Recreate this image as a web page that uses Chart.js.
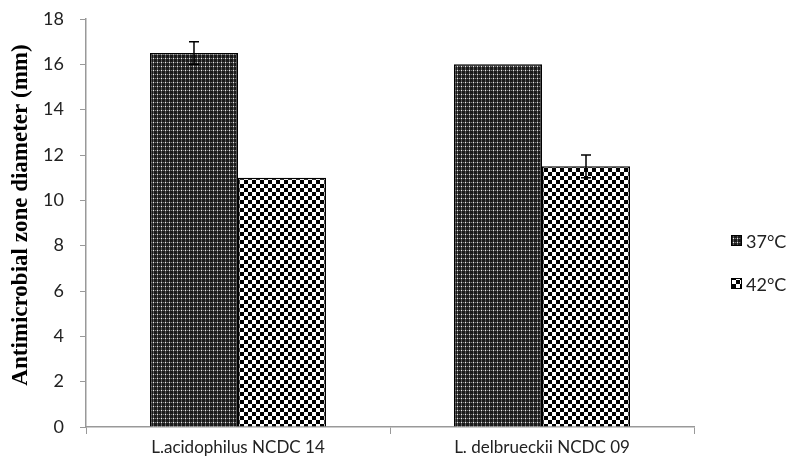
<!DOCTYPE html>
<html lang="en">
<head>
  <meta charset="UTF-8">
  <title>Antimicrobial zone diameter</title>
  <script src="https://cdn.jsdelivr.net/npm/chart.js"></script>
  <style>
    body { margin: 0; background: #fff; }
    #wrap { width: 799px; height: 468px; position: relative; }
  </style>
</head>
<body>
  <div id="wrap"><canvas id="zoneChart"></canvas></div>
  <script>
    // data
    const strains = ["L.acidophilus NCDC 14", "L. delbrueckii NCDC 09"];
    const seriesNames = ["37°C", "42°C"];
    const zone37 = [16.5, 16];
    const zone42 = [11, 11.5];
    const err37 = [0.5, 0];
    const err42 = [0, 0.5];
    const yTicks = [0, 2, 4, 6, 8, 10, 12, 14, 16, 18];
    const yTitle = "Antimicrobial zone diameter (mm)";

    function dotPattern() {
      const c = document.createElement("canvas");
      c.width = 4; c.height = 4;
      const g = c.getContext("2d");
      g.fillStyle = "#1a1a1a"; g.fillRect(0, 0, 4, 4);
      g.fillStyle = "#5a5a5a"; g.fillRect(1, 0, 1, 4);
      g.fillStyle = "#3a3a3a"; g.fillRect(0, 2, 4, 1);
      g.fillStyle = "#eee"; g.fillRect(1, 2, 1, 1);
      g.fillStyle = "#777"; g.fillRect(3, 2, 1, 1);
      return g.createPattern(c, "repeat");
    }
    function checkPattern() {
      const c = document.createElement("canvas");
      c.width = 8; c.height = 8;
      const g = c.getContext("2d");
      g.fillStyle = "#fff"; g.fillRect(0, 0, 8, 8);
      g.fillStyle = "#000"; g.fillRect(0, 0, 4, 4); g.fillRect(4, 4, 4, 4);
      return g.createPattern(c, "repeat");
    }
    const fills = [dotPattern(), checkPattern()];
    const errors = [err37, err42];

    const errorBars = {
      id: "errorBars",
      afterDatasetsDraw(chart) {
        const ctx = chart.ctx, y = chart.scales.y;
        ctx.save();
        ctx.strokeStyle = "#000";
        ctx.lineWidth = 1.5;
        chart.data.datasets.forEach((ds, di) => {
          const meta = chart.getDatasetMeta(di);
          meta.data.forEach((bar, i) => {
            const e = errors[di][i];
            if (!e) return;
            const v = ds.data[i];
            const top = y.getPixelForValue(v + e), bot = y.getPixelForValue(v - e);
            ctx.beginPath();
            ctx.moveTo(bar.x, top); ctx.lineTo(bar.x, bot);
            ctx.moveTo(bar.x - 5, top); ctx.lineTo(bar.x + 5, top);
            ctx.moveTo(bar.x - 5, bot); ctx.lineTo(bar.x + 5, bot);
            ctx.stroke();
          });
        });
        ctx.restore();
      }
    };

    // legend and axis title drawn by hand to sit where the original has them
    const extras = {
      id: "extras",
      afterDraw(chart) {
        const ctx = chart.ctx;
        ctx.save();
        ctx.font = "18px Lato, sans-serif";
        ctx.textBaseline = "middle";
        chart.data.datasets.forEach((ds, i) => {
          const yy = 241 + i * 43;
          ctx.fillStyle = ds.backgroundColor;
          ctx.fillRect(731, yy - 6, 11, 11);
          ctx.strokeStyle = "#000";
          ctx.lineWidth = 1;
          ctx.strokeRect(731.5, yy - 5.5, 10, 10);
          ctx.fillStyle = "#222";
          ctx.fillText(ds.label, 746, yy + 1);
        });
        ctx.translate(21, 215);
        ctx.rotate(-Math.PI / 2);
        ctx.textAlign = "center";
        ctx.fillStyle = "#000";
        ctx.font = "bold 23px 'Liberation Serif', serif";
        ctx.fillText(yTitle, 0, 0);
        ctx.restore();
      }
    };

    new Chart(document.getElementById("zoneChart"), {
      type: "bar",
      data: {
        labels: strains,
        datasets: [
          { label: seriesNames[0], data: zone37, backgroundColor: fills[0], borderColor: "#000", borderWidth: 1.5 },
          { label: seriesNames[1], data: zone42, backgroundColor: fills[1], borderColor: "#000", borderWidth: 1.5 }
        ]
      },
      options: {
        responsive: true,
        maintainAspectRatio: false,
        animation: false,
        datasets: { bar: { categoryPercentage: 0.579, barPercentage: 1 } },
        layout: { padding: { top: 19, right: 105, bottom: 0, left: 0 } },
        plugins: { legend: { display: false }, tooltip: { enabled: false } },
        scales: {
          x: {
            grid: { drawOnChartArea: false, tickLength: 7, color: "#999" },
            border: { color: "#999", width: 1.5 },
            ticks: { color: "#222", font: { family: "Lato, sans-serif", size: 17 }, padding: 3 },
            afterFit(s) { s.height = 41; }
          },
          y: {
            min: 0, max: 18,
            afterBuildTicks(s) { s.ticks = yTicks.map(v => ({ value: v })); },
            grid: { drawOnChartArea: false, tickLength: 6, color: "#999" },
            border: { color: "#999", width: 1.5 },
            ticks: { color: "#222", font: { family: "Lato, sans-serif", size: 18 }, padding: 16 },
            afterFit(s) { s.width = 86; s.paddingTop = 0; s.paddingBottom = 0; }
          }
        }
      },
      plugins: [errorBars, extras]
    });
  </script>
</body>
</html>
